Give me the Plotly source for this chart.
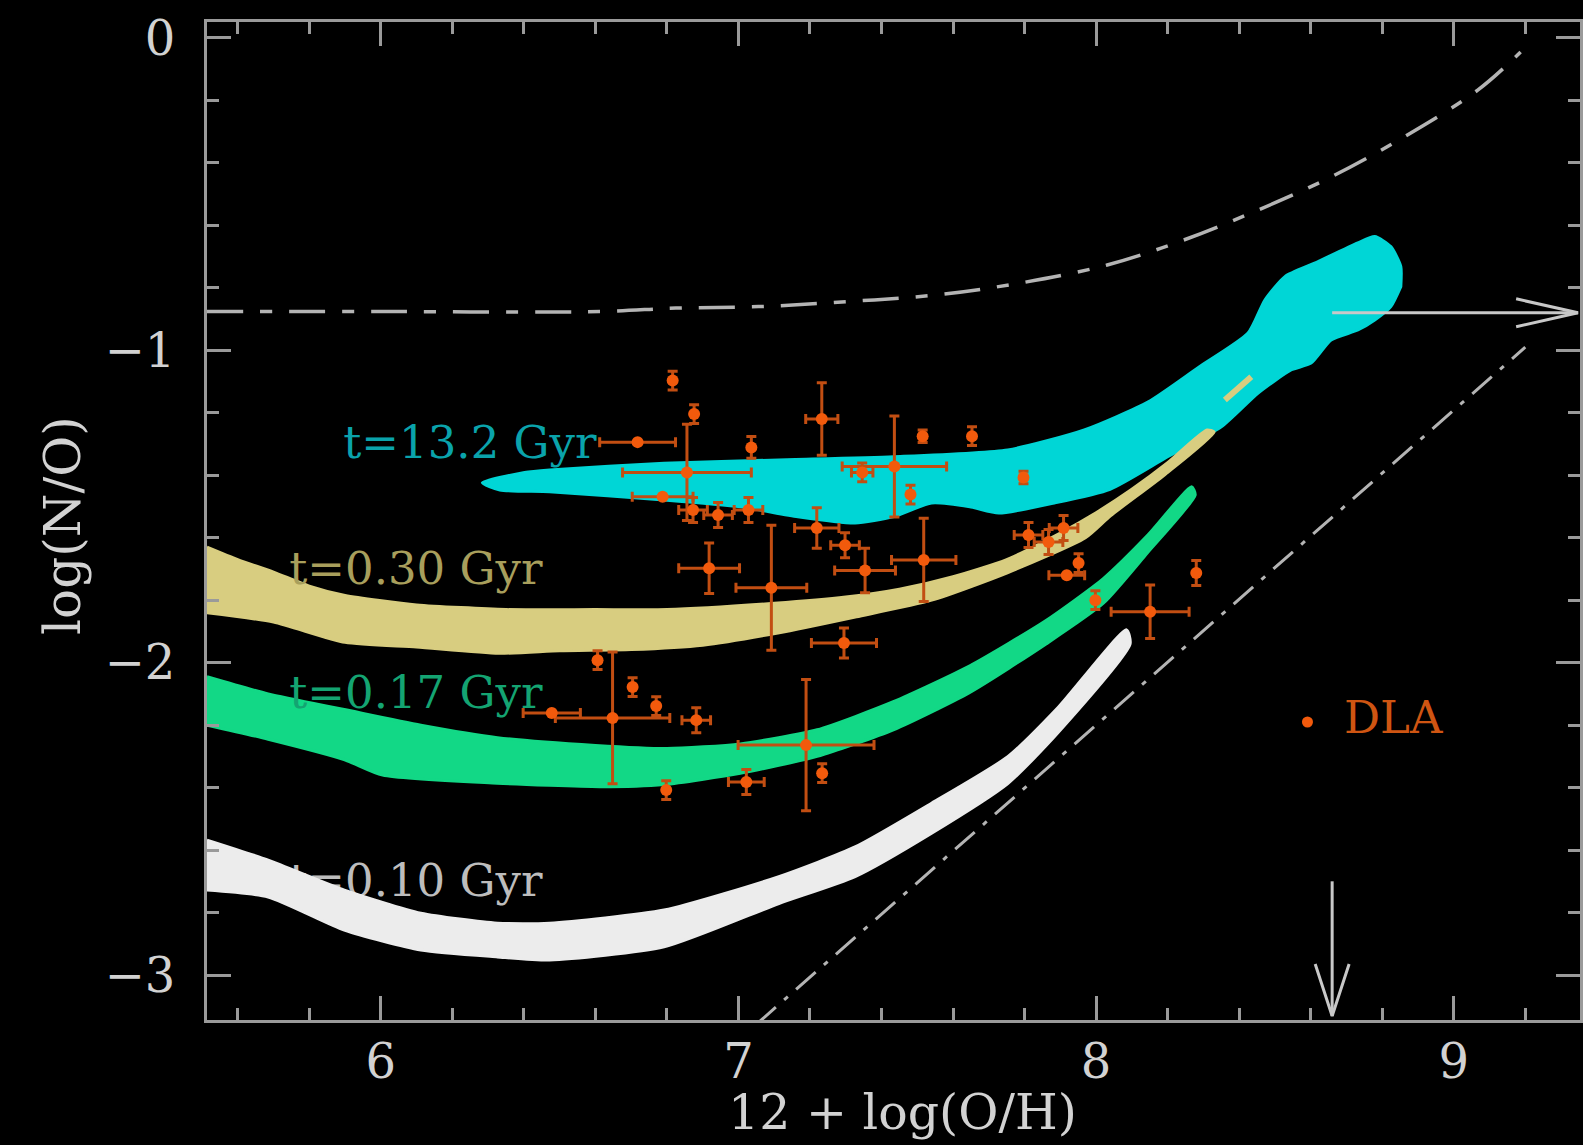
import plotly.graph_objects as go

# ---------------- axes ----------------
X_RANGE = [5.514, 9.353]
Y_RANGE = [-3.144, 0.051]
X_TICKS = [6, 7, 8, 9]
Y_TICKS = [-3, -2, -1, 0]
Y_TICK_TEXT = ["\u22123", "\u22122", "\u22121", "0"]
X_TITLE = "12 + log(O/H)"
Y_TITLE = "log(N/O)"

# ---------------- solar reference ----------------
SOLAR_OH = 8.66
SOLAR_NO = -0.88
SOLAR_OH_ARROW_TOP = -2.70

# upper envelope (dash-dot): primary plateau turning into secondary
env_oh = [5.514, 6.0, 6.612, 6.825, 7.06, 7.306, 7.551, 7.786, 8.031,
          8.245, 8.453, 8.657, 8.861, 9.067, 9.187]
env_no = [-0.876, -0.876, -0.876, -0.865, -0.860, -0.844, -0.823, -0.785,
          -0.727, -0.647, -0.551, -0.445, -0.317, -0.167, -0.045]

# pure secondary line (dashed)
sec_oh = [7.05, 9.20]
sec_no = [-3.158, -0.99]

# ---------------- model bands (upper / lower envelopes) ----------------
# t = 13.2 Gyr
cyan_up_oh = [6.284, 6.402, 6.472, 6.792, 7.113, 7.433, 7.753, 7.967, 8.146,
              8.286, 8.425, 8.472, 8.528, 8.611, 8.732, 8.779, 8.824, 8.852, 8.852]
cyan_up_no = [-1.424, -1.391, -1.383, -1.362, -1.351, -1.341, -1.319, -1.255,
              -1.165, -1.055, -0.945, -0.839, -0.764, -0.721, -0.656, -0.636,
              -0.668, -0.732, -0.796]
cyan_lo_oh = [6.284, 6.333, 6.472, 6.792, 7.005, 7.166, 7.326, 7.432, 7.540,
              7.647, 7.728, 7.883, 8.039, 8.194, 8.350, 8.453, 8.545, 8.601,
              8.657, 8.732, 8.779, 8.824, 8.852]
cyan_lo_no = [-1.424, -1.447, -1.453, -1.479, -1.501, -1.533, -1.553, -1.533,
              -1.489, -1.501, -1.521, -1.489, -1.445, -1.345, -1.245, -1.137,
              -1.063, -1.041, -0.967, -0.935, -0.903, -0.860, -0.796]

# t = 0.30 Gyr
khaki_up_oh = [5.514, 5.60, 5.70, 5.80, 5.90, 6.10, 6.35, 6.60, 6.80, 7.10,
               7.30, 7.45, 7.60, 7.75, 7.90, 8.00, 8.10, 8.20, 8.31]
khaki_up_no = [-1.63, -1.67, -1.71, -1.755, -1.785, -1.815, -1.83, -1.83,
               -1.83, -1.81, -1.79, -1.765, -1.725, -1.67, -1.585, -1.52,
               -1.445, -1.36, -1.255]
khaki_lo_oh = [5.514, 5.70, 5.90, 6.10, 6.33, 6.50, 6.70, 6.90, 7.11, 7.33,
               7.54, 7.75, 7.97, 8.04, 8.19, 8.33]
khaki_lo_no = [-1.84, -1.87, -1.935, -1.95, -1.97, -1.962, -1.958, -1.944,
               -1.905, -1.853, -1.80, -1.713, -1.60, -1.53, -1.40, -1.262]
khaki_tail_oh = [8.36, 8.434]
khaki_tail_no = [-1.159, -1.085]

# t = 0.17 Gyr
green_up_oh = [5.514, 5.685, 5.898, 6.112, 6.326, 6.60, 6.80, 7.005, 7.22,
               7.433, 7.647, 7.86, 8.021, 8.146, 8.267]
green_up_no = [-2.045, -2.10, -2.15, -2.20, -2.24, -2.265, -2.275, -2.26,
               -2.215, -2.125, -2.01, -1.865, -1.73, -1.59, -1.437]
green_lo_oh = [5.514, 5.685, 5.897, 6.005, 6.326, 6.612, 6.792, 7.005, 7.22,
               7.433, 7.647, 7.86, 8.021, 8.143, 8.277]
green_lo_no = [-2.20, -2.245, -2.31, -2.36, -2.386, -2.397, -2.39, -2.354,
               -2.30, -2.215, -2.095, -1.94, -1.809, -1.649, -1.463]

# t = 0.10 Gyr
white_up_oh = [5.514, 5.685, 5.898, 6.112, 6.326, 6.472, 6.792, 7.113, 7.326,
               7.54, 7.753, 7.895, 8.085]
white_up_no = [-2.568, -2.632, -2.728, -2.802, -2.834, -2.834, -2.792, -2.685,
               -2.59, -2.45, -2.301, -2.142, -1.895]
white_lo_oh = [5.514, 5.685, 5.898, 6.112, 6.326, 6.472, 6.792, 7.113, 7.326,
               7.54, 7.753, 7.895, 8.095]
white_lo_no = [-2.728, -2.75, -2.856, -2.92, -2.942, -2.952, -2.91, -2.771,
               -2.685, -2.546, -2.387, -2.222, -1.94]

# band labels
label_text = ["t=13.2 Gyr", "t=0.30 Gyr", "t=0.17 Gyr", "t=0.10 Gyr"]
label_oh = [6.249, 6.098, 6.098, 6.098]
label_no = [-1.310, -1.712, -2.109, -2.710]
label_colors = ["#0aa3ab", "#a89f5c", "#14a472", "#bdbdbd"]

# ---------------- DLA measurements ----------------
dla_oh = [6.718, 6.816, 6.876, 6.856, 7.036, 7.233, 7.436, 7.515, 7.653, 7.346,
          7.481, 7.797, 6.788, 6.873, 6.943, 7.028, 7.219, 7.298, 6.918, 7.092,
          7.354, 7.518, 7.811, 7.867, 7.909, 7.951, 7.918, 7.998, 8.151, 8.280,
          7.295, 6.478, 6.648, 6.606, 6.704, 6.770, 6.882, 7.189, 7.022, 7.234,
          6.798]
dla_no = [-1.294, -1.097, -1.204, -1.391, -1.311, -1.220, -1.372, -1.275, -1.275,
          -1.391, -1.462, -1.407, -1.469, -1.511, -1.527, -1.511, -1.569, -1.624,
          -1.698, -1.760, -1.705, -1.671, -1.591, -1.614, -1.569, -1.681, -1.720,
          -1.800, -1.837, -1.713, -1.937, -2.161, -2.177, -1.992, -2.078, -2.139,
          -2.184, -2.264, -2.382, -2.354, -2.408]
dla_oh_err = [0.106, 0, 0, 0.180, 0, 0.045, 0.146, 0, 0, 0.03,
              0, 0, 0.085, 0.04, 0.04, 0.04, 0.062, 0.04, 0.085, 0.099,
              0.085, 0.09, 0.04, 0.04, 0.04, 0, 0.05, 0, 0.109, 0,
              0.091, 0.08, 0.16, 0, 0, 0, 0.04, 0.19, 0.05, 0,
              0]
dla_no_err = [0, 0.03, 0.03, 0.154, 0.035, 0.116, 0.162, 0.02, 0.03, 0.03,
              0.03, 0.02, 0, 0.04, 0.04, 0.04, 0.065, 0.04, 0.081, 0.20,
              0.071, 0.133, 0.04, 0.04, 0.04, 0.03, 0, 0.03, 0.086, 0.04,
              0.048, 0, 0.211, 0.03, 0.03, 0.03, 0.04, 0.21, 0.04, 0.03,
              0.03]
dla_key_oh = [8.591]
dla_key_no = [-2.190]
DLA_LABEL = "DLA"

# ---------------- styling ----------------
FONT = "DejaVu Serif"
BG = "#000000"
FRAME = "#9a9a9a"
TEXT = "#d2d2d2"
CYAN = "#00d6d6"
KHAKI = "#d8cd80"
GREEN = "#12d886"
WHITE = "#ececec"
DLA_FILL = "#f25a0c"
DLA_BAR = "#c24e12"
CURVE = "#b4b4b4"

FIG_W, FIG_H = 1583, 1145
M_L, M_R, M_T, M_B = 207, 0, 22, 125
PLOT_W = FIG_W - M_L - M_R
PLOT_H = FIG_H - M_T - M_B
PX_X = PLOT_W / (X_RANGE[1] - X_RANGE[0])
PX_Y = PLOT_H / (Y_RANGE[1] - Y_RANGE[0])

fig = go.Figure()


def labels(idx):
    return go.Scatter(
        x=[label_oh[i] for i in idx], y=[label_no[i] for i in idx],
        mode="text", text=[label_text[i] for i in idx],
        textposition="middle center",
        textfont=dict(family=FONT, size=45,
                      color=[label_colors[i] for i in idx]),
        hoverinfo="skip")


# labels that sit underneath the model clouds
fig.add_trace(labels([0, 3]))

# envelope curves
fig.add_trace(go.Scatter(
    x=env_oh, y=env_no, mode="lines", line_shape="spline",
    line=dict(color=CURVE, width=3.5, dash="36px,17px,12px,17px"),
    hoverinfo="skip"))
fig.add_trace(go.Scatter(
    x=sec_oh, y=sec_no, mode="lines",
    line=dict(color=CURVE, width=3, dash="26px,11px,5px,11px"),
    hoverinfo="skip"))


def band(up_x, up_y, lo_x, lo_y, color):
    xs = list(up_x) + list(reversed(lo_x))
    ys = list(up_y) + list(reversed(lo_y))
    return go.Scatter(x=xs, y=ys, mode="lines", fill="toself",
                      fillcolor=color,
                      line=dict(color=color, width=3, shape="spline",
                                smoothing=0.6),
                      hoverinfo="skip")


fig.add_trace(band(white_up_oh, white_up_no, white_lo_oh, white_lo_no, WHITE))
fig.add_trace(band(green_up_oh, green_up_no, green_lo_oh, green_lo_no, GREEN))
fig.add_trace(band(cyan_up_oh, cyan_up_no, cyan_lo_oh, cyan_lo_no, CYAN))
fig.add_trace(band(khaki_up_oh, khaki_up_no, khaki_lo_oh, khaki_lo_no, KHAKI))
fig.add_trace(go.Scatter(
    x=khaki_tail_oh, y=khaki_tail_no, mode="lines",
    line=dict(color=KHAKI, width=6), hoverinfo="skip"))

# labels drawn over the clouds
fig.add_trace(labels([1, 2]))

# DLA points with error bars
fig.add_trace(go.Scatter(
    x=dla_oh, y=dla_no, mode="markers",
    marker=dict(color=DLA_FILL, size=12, line=dict(width=0)),
    error_x=dict(type="data", array=dla_oh_err, color=DLA_BAR,
                 thickness=3, width=5),
    error_y=dict(type="data", array=dla_no_err, color=DLA_BAR,
                 thickness=3, width=5),
    hoverinfo="skip"))

# DLA key
fig.add_trace(go.Scatter(
    x=dla_key_oh, y=dla_key_no, mode="markers+text", text=["  " + DLA_LABEL],
    textposition="middle right",
    marker=dict(color=DLA_FILL, size=11),
    textfont=dict(family=FONT, size=45, color="#cf5512"),
    hoverinfo="skip"))

# solar arrows (open V heads)
arrow_style = dict(color="#c8c8c8", width=3)
tip_x = X_RANGE[1] - 2 / PX_X
fig.add_trace(go.Scatter(
    x=[SOLAR_OH, tip_x], y=[SOLAR_NO, SOLAR_NO], mode="lines",
    line=arrow_style, hoverinfo="skip"))
fig.add_trace(go.Scatter(
    x=[tip_x - 62 / PX_X, tip_x, tip_x - 62 / PX_X],
    y=[SOLAR_NO + 14 / PX_Y, SOLAR_NO, SOLAR_NO - 14 / PX_Y],
    mode="lines", line=arrow_style, hoverinfo="skip"))
tip_y = Y_RANGE[0] + 4 / PX_Y
fig.add_trace(go.Scatter(
    x=[SOLAR_OH, SOLAR_OH], y=[SOLAR_OH_ARROW_TOP, tip_y], mode="lines",
    line=arrow_style, hoverinfo="skip"))
fig.add_trace(go.Scatter(
    x=[SOLAR_OH - 17 / PX_X, SOLAR_OH, SOLAR_OH + 17 / PX_X],
    y=[tip_y + 52 / PX_Y, tip_y, tip_y + 52 / PX_Y],
    mode="lines", line=arrow_style, hoverinfo="skip"))

axis_common = dict(
    showline=True, linecolor=FRAME, linewidth=3, mirror="ticks",
    ticks="inside", ticklen=24, tickwidth=3, tickcolor=FRAME,
    showgrid=False, zeroline=False,
    tickfont=dict(family=FONT, size=48, color=TEXT),
    minor=dict(dtick=0.2, tick0=0, ticks="inside", ticklen=12,
               tickwidth=3, tickcolor=FRAME, showgrid=False),
)

fig.update_layout(
    width=FIG_W, height=FIG_H,
    margin=dict(l=M_L, r=M_R, t=M_T, b=M_B),
    paper_bgcolor=BG, plot_bgcolor=BG,
    showlegend=False,
    xaxis=dict(range=X_RANGE, tickvals=X_TICKS, ticklabelstandoff=-3,
               **axis_common),
    yaxis=dict(range=Y_RANGE, tickvals=Y_TICKS, ticktext=Y_TICK_TEXT,
               ticklabelstandoff=19, **axis_common),
    annotations=[
        dict(text=X_TITLE, xref="paper", yref="paper",
             x=(903.6 - M_L) / PLOT_W, y=-(1112 - (FIG_H - M_B)) / PLOT_H,
             xanchor="center", yanchor="middle", showarrow=False,
             font=dict(family=FONT, size=49, color=TEXT)),
        dict(text=Y_TITLE, xref="paper", yref="paper",
             x=(62.6 - M_L) / PLOT_W, y=((FIG_H - M_B) - 525) / PLOT_H,
             xanchor="center", yanchor="middle", textangle=-90,
             showarrow=False, font=dict(family=FONT, size=50, color=TEXT)),
    ],
)

fig.write_html("out.html")
